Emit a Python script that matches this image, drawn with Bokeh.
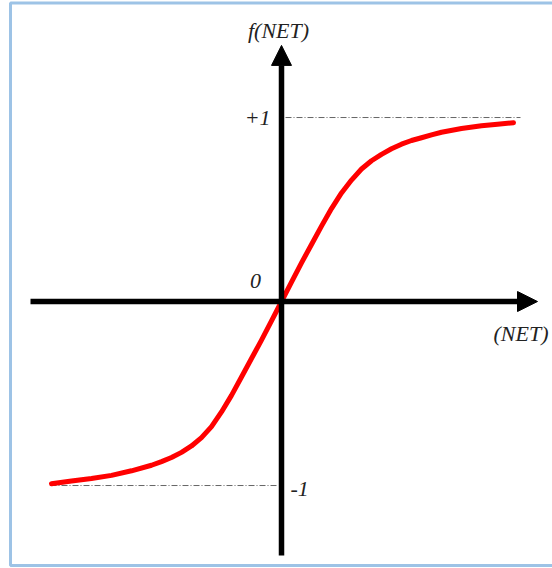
from bokeh.plotting import figure
from bokeh.models import Arrow, NormalHead, Label
from bokeh.embed import file_html
from bokeh.resources import INLINE

# Sampled activation curve f(NET) (bipolar, saturating at -1 and +1)
net = [-5.75, -5.25, -4.75, -4.25, -3.75, -3.25, -3.0, -2.75, -2.5, -2.25, -2.0, -1.75,
       -1.5, -1.25, -1.0, -0.75, -0.5, -0.25, 0.0,
       0.25, 0.5, 0.75, 1.0, 1.25, 1.5, 1.75, 2.0, 2.25, 2.5, 2.75, 3.0, 3.25, 3.5,
       3.75, 4.0, 4.5, 5.0, 5.4, 5.8]
f_net = [-0.99, -0.975, -0.962, -0.945, -0.92, -0.89, -0.87, -0.848, -0.82, -0.785, -0.74, -0.68,
         -0.60, -0.51, -0.41, -0.31, -0.21, -0.105, 0.0,
         0.105, 0.21, 0.31, 0.41, 0.505, 0.59, 0.66, 0.72, 0.765, 0.80, 0.83, 0.855, 0.875, 0.89,
         0.906, 0.92, 0.94, 0.955, 0.964, 0.972]

# Saturation levels and their labels
levels = [1.0, -1.0]
level_labels = ["+1", "-1"]
origin_label = "0"
x_label = "(NET)"
y_label = "f(NET)"

W, H = 552, 568
p = figure(width=W, height=H, output_backend="svg", toolbar_location=None,
           x_range=(-7.025, 6.775), y_range=(-1.451, 1.636),
           min_border=0, outline_line_color=None)
p.axis.visible = False
p.grid.visible = False
p.background_fill_color = "white"
p.border_fill_color = "white"

# light blue frame around the diagram
p.quad(left=-6.775, right=8.0, top=1.622, bottom=-1.435,
       fill_color=None, line_color="#9DC3E6", line_width=3)

# dash-dot guides at the saturation levels
p.line([0.1, 5.975], [levels[0], levels[0]], line_color="#666666", line_width=1,
       line_dash="6 2 1 2")
p.line([-5.775, -0.075], [levels[1], levels[1]], line_color="#666666", line_width=1,
       line_dash="6 2 1 2")

# coordinate axes with arrow heads
axis_kw = dict(line_color="black", line_width=5.5)
p.add_layout(Arrow(end=NormalHead(size=20, fill_color="black", line_color="black"),
                   x_start=-6.275, y_start=0, x_end=6.4, y_end=0, **axis_kw))
p.add_layout(Arrow(end=NormalHead(size=20, fill_color="black", line_color="black"),
                   x_start=0, y_start=-1.38, x_end=0, y_end=1.392, **axis_kw))

# the activation curve
p.line(net, f_net, line_color="#FF0000", line_width=5, line_join="round", line_cap="round")

font = dict(text_font="Liberation Serif", text_font_style="italic",
            text_font_size="22px", text_color="#222222")
p.add_layout(Label(x=-0.075, y=1.473, text=y_label, text_align="center",
                   text_baseline="middle", **font))
p.add_layout(Label(x=5.3, y=-0.174, text=x_label, text_align="left",
                   text_baseline="middle", **font))
p.add_layout(Label(x=-0.275, y=levels[0], text=level_labels[0], text_align="right",
                   text_baseline="middle", **font))
p.add_layout(Label(x=0.225, y=-1.02, text=level_labels[1], text_align="left",
                   text_baseline="middle", **font))
p.add_layout(Label(x=-0.65, y=0.114, text=origin_label, text_align="center",
                   text_baseline="middle", **font))

open("out.html", "w").write(file_html(p, INLINE))
